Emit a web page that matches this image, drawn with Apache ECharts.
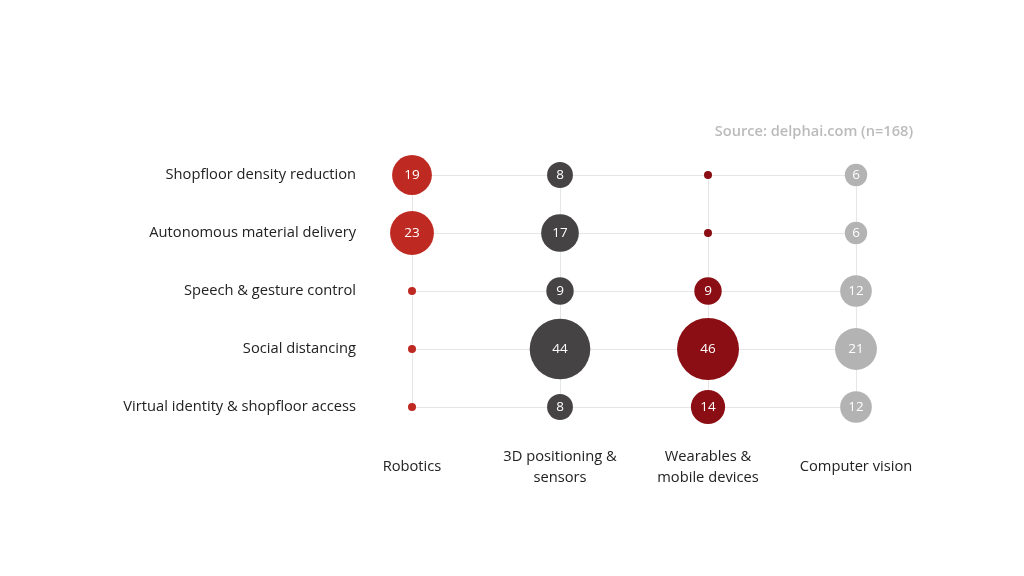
<!DOCTYPE html>
<html>
<head>
<meta charset="utf-8">
<script src="https://cdn.jsdelivr.net/npm/echarts@6/dist/echarts.min.js"></script>
<style>html,body{margin:0;padding:0;background:#fff}#c{width:1024px;height:576px}</style>
</head>
<body>
<div id="c"></div>
<script>
const columns = ['Robotics', '3D positioning &\nsensors', 'Wearables &\nmobile devices', 'Computer vision'];
const rows = ['Shopfloor density reduction', 'Autonomous material delivery', 'Speech & gesture control', 'Social distancing', 'Virtual identity & shopfloor access'];
const robotics = [19, 23, 0, 0, 0];
const positioning = [8, 17, 9, 44, 8];
const wearables = [0, 0, 9, 46, 14];
const vision = [6, 6, 12, 21, 12];
const colors = ['#BE2A21', '#454344', '#8A0E13', '#B3B3B3'];
const seriesValues = [robotics, positioning, wearables, vision];
const FONT = 'Open Sans';

const chart = echarts.init(document.getElementById('c'));
chart.setOption({
  animation: false,
  textStyle: { fontFamily: FONT },
  title: {
    text: 'Source: delphai.com (n=168)',
    right: 106, top: 119,
    textStyle: { color: '#BBBBBB', fontSize: 14.6, fontWeight: 600, fontFamily: FONT }
  },
  grid: { left: 412, right: 168, top: 175, bottom: 169 },
  xAxis: {
    type: 'category', data: columns, boundaryGap: false,
    axisLine: { show: false }, axisTick: { show: false },
    splitLine: { show: true, lineStyle: { color: '#E6E6E6', width: 1 } },
    axisLabel: { color: '#222', fontSize: 14.7, margin: 60, verticalAlign: 'middle', lineHeight: 21, fontFamily: FONT }
  },
  yAxis: {
    type: 'category', data: rows, inverse: true, boundaryGap: false,
    axisLine: { show: false }, axisTick: { show: false },
    splitLine: { show: true, lineStyle: { color: '#E6E6E6', width: 1 } },
    axisLabel: { color: '#222', fontSize: 14.7, margin: 56, fontFamily: FONT }
  },
  series: seriesValues.map((vals, ci) => ({
    type: 'scatter',
    data: vals.map((v, ri) => [ci, ri, v]),
    symbolSize: d => d[2] === 0 ? 8 : 9.14 * Math.sqrt(d[2]),
    itemStyle: { color: colors[ci], opacity: 1 },
    label: {
      show: true, position: 'inside', color: '#fff', fontSize: 13.5, fontFamily: FONT,
      formatter: p => p.data[2] === 0 ? '' : String(p.data[2])
    },
    z: 3
  }))
});
</script>
</body>
</html>
